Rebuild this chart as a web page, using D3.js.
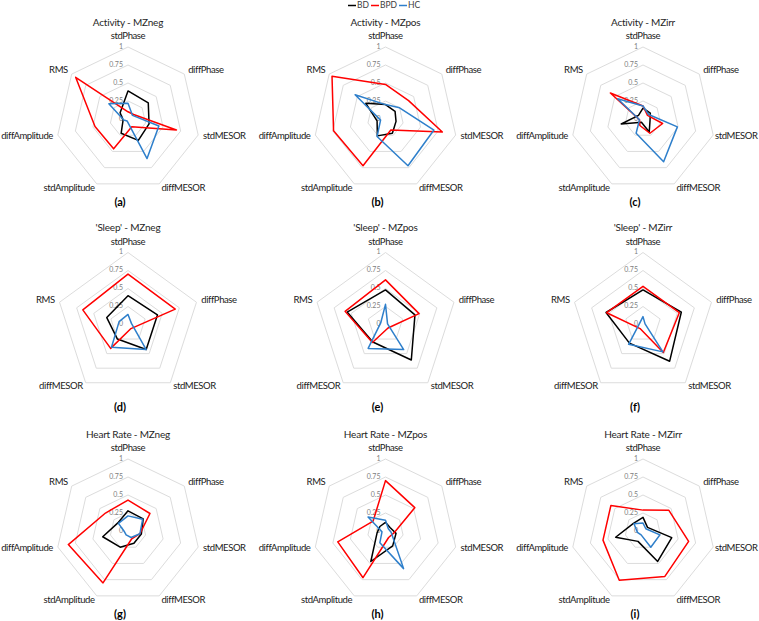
<!DOCTYPE html>
<html><head><meta charset="utf-8">
<script src="https://cdn.jsdelivr.net/npm/d3@7"></script>
<style>
html,body{margin:0;padding:0;background:#fff;}
svg{display:block;}
text{font-family:Lato,"Open Sans",sans-serif;}
</style></head>
<body><svg id="chart" width="759" height="621"></svg>
<script>
// ---------- data ----------
const seriesNames = ["BD", "BPD", "HC"];
const axes7 = ["stdPhase","diffPhase","stdMESOR","diffMESOR","stdAmplitude","diffAmplitude","RMS"];
const axes5 = ["stdPhase","diffPhase","stdMESOR","diffMESOR","RMS"];
const tickValues = [0, 0.25, 0.5, 0.75, 1];
const tickLabels = ["0", "0.25", "0.5", "0.75", "1"];
const panelTitles = ["Activity - MZneg","Activity - MZpos","Activity - MZirr",
                     "'Sleep' - MZneg","'Sleep' - MZpos","'Sleep' - MZirr",
                     "Heart Rate - MZneg","Heart Rate - MZpos","Heart Rate - MZirr"];
const panelLetters = ["(a)","(b)","(c)","(d)","(e)","(f)","(g)","(h)","(i)"];

// Activity
const actNegBD  = [0.39, 0.36, 0.30, 0.33, 0.22, 0.07, 0.14];
const actNegBPD = [0.10, 0.10, 0.69, 0.12, 0.46, 0.47, 0.93];
const actNegHC  = [0.22, 0.08, 0.44, 0.61, 0.03, 0.06, 0.34];
const actPosBD  = [0.20, 0.17, 0.15, 0.22, 0.26, 0.12, 0.35];
const actPosBPD = [0.48, 0.41, 0.81, 0.17, 0.72, 0.74, 0.95];
const actPosHC  = [0.20, 0.25, 0.69, 0.72, 0.27, 0.07, 0.54];
const actIrrBD  = [0.15, 0.13, 0.10, 0.20, 0.05, 0.31, 0.08];
const actIrrBPD = [0.18, 0.08, 0.28, 0.22, 0.10, 0.05, 0.58];
const actIrrHC  = [0.18, 0.10, 0.49, 0.66, 0.22, 0.05, 0.45];
// Sleep
const slpNegBD  = [0.40, 0.43, 0.43, 0.25, 0.31];
const slpNegBPD = [0.70, 0.69, 0.07, 0.41, 0.66];
const slpNegHC  = [0.14, 0.05, 0.43, 0.39, 0.13];
const slpPosBD  = [0.48, 0.43, 0.61, 0.30, 0.56];
const slpPosBPD = [0.62, 0.49, 0.06, 0.31, 0.59];
const slpPosHC  = [0.28, 0.03, 0.43, 0.41, 0.07];
const slpIrrBD  = [0.48, 0.56, 0.63, 0.32, 0.54];
const slpIrrBPD = [0.53, 0.53, 0.48, 0.07, 0.53];
const slpIrrHC  = [0.11, 0.03, 0.47, 0.34, 0.05];
// Heart rate
const hrNegBD   = [0.28, 0.27, 0.19, 0.19, 0.25, 0.36, 0.18];
const hrNegBPD  = [0.43, 0.39, 0.17, 0.12, 0.80, 0.85, 0.40];
const hrNegHC   = [0.21, 0.26, 0.17, 0.10, 0.06, 0.05, 0.17];
const hrPosBD   = [0.12, 0.08, 0.15, 0.23, 0.47, 0.12, 0.10];
const hrPosBPD  = [0.70, 0.52, 0.12, 0.10, 0.72, 0.68, 0.22];
const hrPosHC   = [0.15, 0.05, 0.08, 0.58, 0.18, 0.05, 0.31];
const hrIrrBD   = [0.19, 0.08, 0.41, 0.47, 0.16, 0.39, 0.17];
const hrIrrBPD  = [0.29, 0.46, 0.65, 0.70, 0.76, 0.57, 0.57];
const hrIrrHC   = [0.11, 0.05, 0.24, 0.25, 0.06, 0.08, 0.16];

const panels = [
  {axes: axes7, series: [actNegBD, actNegBPD, actNegHC]},
  {axes: axes7, series: [actPosBD, actPosBPD, actPosHC]},
  {axes: axes7, series: [actIrrBD, actIrrBPD, actIrrHC]},
  {axes: axes5, series: [slpNegBD, slpNegBPD, slpNegHC]},
  {axes: axes5, series: [slpPosBD, slpPosBPD, slpPosHC]},
  {axes: axes5, series: [slpIrrBD, slpIrrBPD, slpIrrHC]},
  {axes: axes7, series: [hrNegBD, hrNegBPD, hrNegHC]},
  {axes: axes7, series: [hrPosBD, hrPosBPD, hrPosHC]},
  {axes: axes7, series: [hrIrrBD, hrIrrBPD, hrIrrHC]},
];

// ---------- style / layout ----------
const colors = ["#000000", "#ff0000", "#2e7fcb"];
const colX = [128, 385.5, 643];
const rowY = [119, 324.5, 531];
const R = 72;
const W = 759;

const svg = d3.select("#chart");
svg.append("rect").attr("width", 759).attr("height", 621).attr("fill", "#fff");

const r = d3.scaleLinear().domain([0, 1]).range([0, R]);

panels.forEach((p, i) => {
  const cx = colX[i % 3], cy = rowY[Math.floor(i / 3)];
  const n = p.axes.length;
  const ang = d3.scaleLinear().domain([0, n]).range([0, 2 * Math.PI]);
  const g = svg.append("g").attr("transform", `translate(${cx},${cy})`);

  // grid rings
  const ring = d3.lineRadial().curve(d3.curveLinearClosed)
    .angle((d, k) => ang(k)).radius(d => r(d));
  tickValues.slice(1).forEach(t => {
    g.append("path").attr("d", ring(p.axes.map(() => t)))
      .attr("fill", "none").attr("stroke", "#dcdcdc").attr("stroke-width", 1);
  });

  // tick labels
  g.selectAll("text.tick").data(tickValues).join("text")
    .attr("class", "tick")
    .attr("x", -5).attr("y", d => -r(d))
    .attr("text-anchor", "end").attr("dominant-baseline", "middle")
    .attr("font-size", 7).attr("fill", "#808080")
    .text((d, k) => tickLabels[k]);

  // axis labels
  p.axes.forEach((a, k) => {
    const th = ang(k);
    const dx = Math.sin(th), dy = -Math.cos(th);
    let lx, ly, anchor;
    if (k === 0) { lx = 0; ly = -R - 10; anchor = "middle"; }
    else {
      lx = (R + 5) * dx; ly = (R + 5) * dy;
      anchor = dx > 0.05 ? "start" : (dx < -0.05 ? "end" : "middle");
    }
    const t = g.append("text").attr("x", lx).attr("y", ly)
      .attr("text-anchor", anchor).attr("dominant-baseline", "middle")
      .attr("font-size", 9.5).attr("letter-spacing", -0.4)
      .attr("fill", "#1a1a1a").text(a);
    // keep inside the picture
    const bb = t.node().getBBox();
    const right = cx + bb.x + bb.width, left = cx + bb.x;
    if (right > W - 1) t.attr("x", lx - (right - (W - 1)));
    if (left < 1) t.attr("x", lx + (1 - left));
  });

  // series
  const line = d3.lineRadial().curve(d3.curveLinearClosed)
    .angle((d, k) => ang(k)).radius(d => r(d));
  p.series.forEach((s, j) => {
    g.append("path").attr("d", line(s))
      .attr("fill", "none").attr("stroke", colors[j])
      .attr("stroke-width", 1.5).attr("stroke-linejoin", "round");
  });

  // title
  g.append("text").attr("x", 0).attr("y", -96)
    .attr("text-anchor", "middle").attr("dominant-baseline", "middle")
    .attr("font-size", 10).attr("letter-spacing", -0.2)
    .attr("fill", "#262626").text(panelTitles[i]);

  // panel letter
  g.append("text").attr("x", -8).attr("y", 84)
    .attr("text-anchor", "middle").attr("dominant-baseline", "middle")
    .attr("font-size", 11).attr("font-weight", "bold").attr("fill", "#000")
    .text(panelLetters[i]);
});

// legend
const legend = svg.append("g").attr("transform", "translate(348,5.5)");
const legX = [0, 23, 51];
seriesNames.forEach((nm, j) => {
  const lg = legend.append("g").attr("transform", `translate(${legX[j]},0)`);
  lg.append("line").attr("x1", 0).attr("x2", 8).attr("y1", 0).attr("y2", 0)
    .attr("stroke", colors[j]).attr("stroke-width", 1.5);
  lg.append("text").attr("x", 9).attr("y", 0).attr("dominant-baseline", "middle")
    .attr("font-size", 8.5).attr("fill", "#404040").text(nm);
});
</script></body></html>
